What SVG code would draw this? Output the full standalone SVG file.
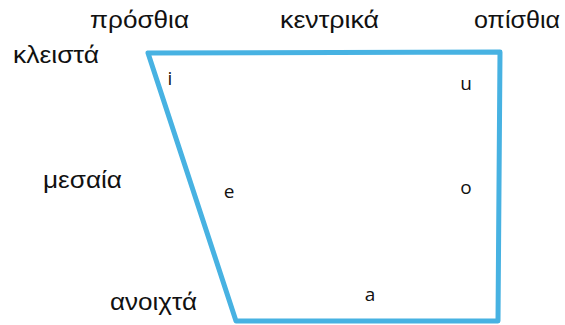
<svg xmlns="http://www.w3.org/2000/svg" width="565" height="325" viewBox="0 0 565 325">
  <style>
    .lbl { font-family: "Liberation Sans", Arial, sans-serif; font-size: 23px; fill: #111; }
    .v { font-family: "Open Sans", "DejaVu Sans", sans-serif; font-size: 19px; fill: #111; text-anchor: middle; }
    .edge { fill: none; stroke: #47B2E2; stroke-width: 5; stroke-linejoin: round; }
  </style>
  <rect width="565" height="325" fill="#fff"/>
  <g id="connectors">
    <polygon class="edge" points="148,53 500,52 498,321 236,321"/>
  </g>
  <g id="labels">
    <text class="lbl" x="90" y="28" textLength="99" lengthAdjust="spacingAndGlyphs">πρόσθια</text>
    <text class="lbl" x="280" y="28" textLength="99" lengthAdjust="spacingAndGlyphs">κεντρικά</text>
    <text class="lbl" x="474" y="28" textLength="86" lengthAdjust="spacingAndGlyphs">οπίσθια</text>
    <text class="lbl" x="13" y="63" textLength="86" lengthAdjust="spacingAndGlyphs">κλειστά</text>
    <text class="lbl" x="43" y="188" textLength="79" lengthAdjust="spacingAndGlyphs">μεσαία</text>
    <text class="lbl" x="110" y="310" textLength="87" lengthAdjust="spacingAndGlyphs">ανοιχτά</text>
  </g>
  <g id="vowel-i"><text class="v" x="170" y="85">i</text></g>
  <g id="vowel-u"><text class="v" x="466" y="90">u</text></g>
  <g id="vowel-e"><text class="v" x="229" y="198">e</text></g>
  <g id="vowel-o"><text class="v" x="466" y="194">o</text></g>
  <g id="vowel-a"><text class="v" x="370" y="301">a</text></g>
</svg>
